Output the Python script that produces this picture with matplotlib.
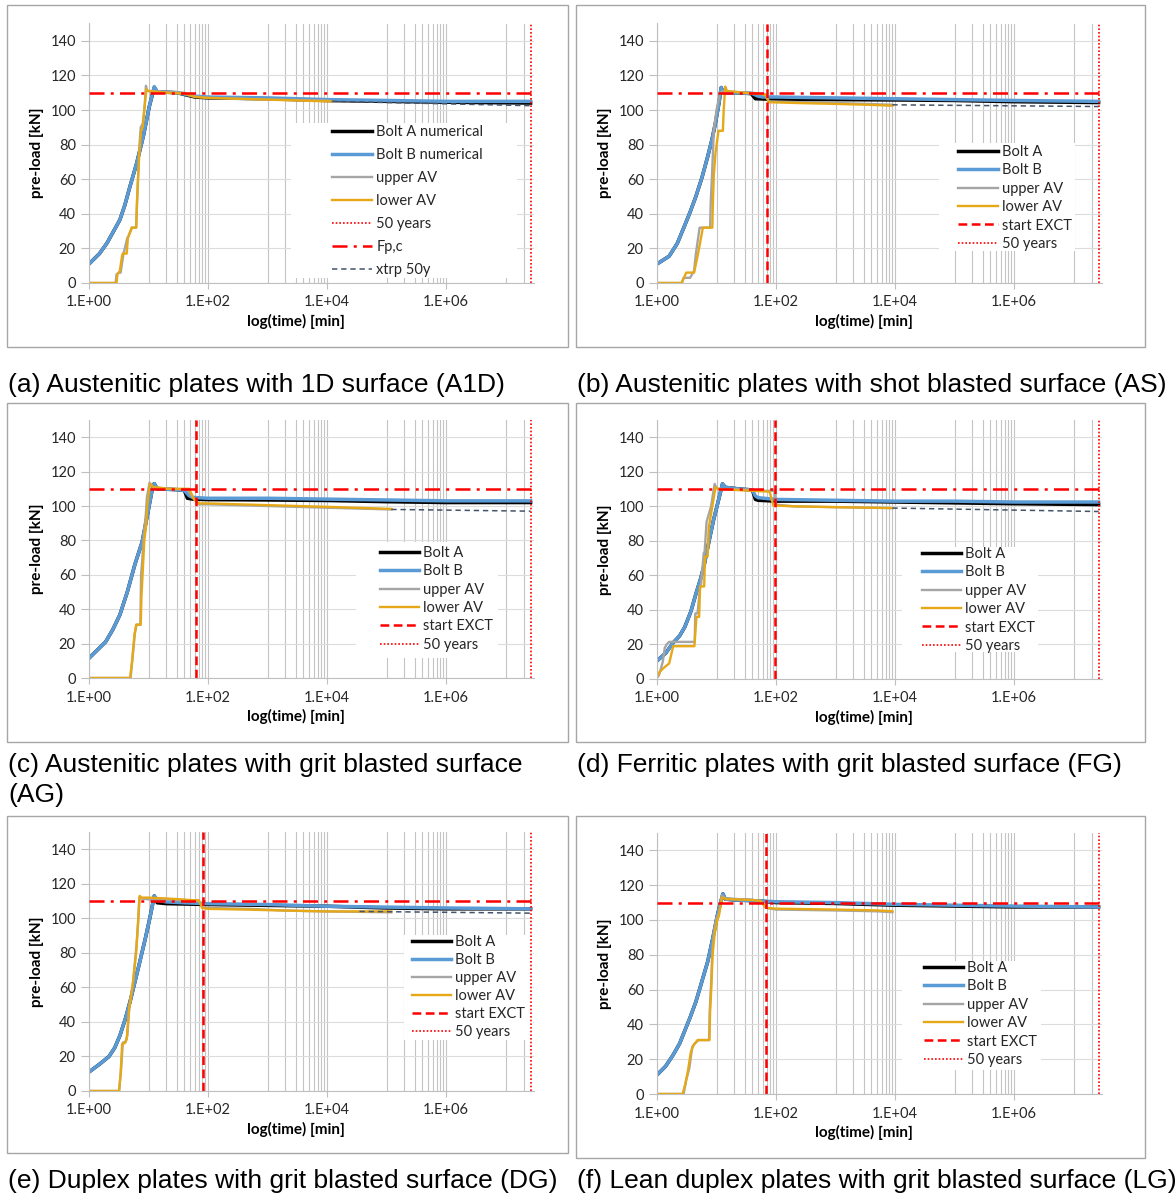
import matplotlib
matplotlib.use("Agg")
import matplotlib.pyplot as plt
from matplotlib.lines import Line2D
from matplotlib.patches import Rectangle
from matplotlib.ticker import FixedLocator, NullFormatter

W, H = 1175, 1196
T50 = 2.63e7      # 50 years [min]
FPC = 110.0       # Fp,c [kN]
XMAX = 3.0e7

# ---------------- (a) A1D ----------------
a_boltA_t = [1, 1.5, 2, 2.5, 3.3, 4, 4.9, 6.3, 8.2, 10.3, 12.5, 14, 30, 60, 100, 1e3, 1e4, 1e5, 1e6, T50]
a_boltA_y = [11, 17, 23, 29, 36.5, 45, 56, 69, 85, 102, 113, 110.5, 110, 107.5, 107, 106.5, 105.5, 105, 104.5, 104]
a_boltB_t = [1, 1.5, 2, 2.5, 3.3, 4, 4.9, 6.3, 8.2, 10.3, 12.5, 14, 30, 60, 100, 1e3, 1e4, 1e5, 1e6, T50]
a_boltB_y = [11, 17, 23, 29, 36.5, 45, 56, 69, 85, 102, 113.5, 110.5, 110, 108, 107.5, 107, 106, 105.5, 105, 105]
a_upper_t = [1, 2.8, 2.9, 3.2, 3.4, 3.8, 4.4, 4.6, 5.3, 6.2, 6.4, 6.7, 7.0, 7.4, 8.0, 8.6, 9.05, 9.5, 20, 40, 60, 100, 1e3, 1e4, 1.2e4]
a_upper_y = [0, 0, 5, 6, 6, 17, 26, 27, 32, 32, 45, 62, 78, 90, 92, 102, 114, 111, 110.5, 110, 108, 107, 106, 105.5, 105]
a_lower_t = [1, 2.9, 3.0, 3.3, 3.6, 3.7, 4.3, 4.5, 5.2, 6.2, 6.4, 6.7, 7.0, 7.5, 8.0, 8.5, 9.2, 9.9, 20, 40, 60, 100, 1e3, 1e4, 1.2e4]
a_lower_y = [0, 0, 5, 7, 16, 17, 17, 26, 32, 32, 47, 62, 75, 88, 90, 100, 112, 111, 110, 109.5, 107.5, 107, 106, 105, 105]
a_xtrp_t = [1.2e4, T50]
a_xtrp_y = [105, 102.5]

# ---------------- (b) AS ----------------
b_boltA_t = [1, 1.6, 2.2, 2.9, 3.6, 4.5, 5.7, 7.1, 8.4, 9.6, 11, 12, 13, 20, 38, 45, 70, 100, 1e3, 1e4, 1e5, 1e6, T50]
b_boltA_y = [11, 15.5, 23, 33, 41, 50, 61, 73, 83, 92.5, 104, 113, 110, 110, 109.5, 106.5, 106.3, 106, 106, 105.8, 105.5, 104.8, 104.3]
b_boltB_t = [1, 1.6, 2.2, 2.9, 3.6, 4.5, 5.7, 7.1, 8.4, 9.6, 11, 12, 13, 20, 40, 50, 60, 100, 1e3, 1e4, 1e5, 1e6, T50]
b_boltB_y = [11, 15.5, 23, 33, 41, 50, 61, 73, 83, 92.5, 104, 113, 110, 110, 109.5, 108, 107.5, 107.5, 107, 106.5, 106, 105.5, 105]
b_upper_t = [1, 2.6, 2.8, 3.6, 4.2, 4.5, 5.2, 7.8, 8.0, 8.4, 9.0, 10, 11.5, 13, 20, 40, 66, 76, 250, 1.1e3, 3.6e3, 9e3]
b_upper_y = [0, 0, 3, 3, 7, 17, 32, 32, 47, 62, 88, 100, 110, 111, 110.5, 110, 109, 105, 104.5, 104, 103.5, 103]
b_lower_t = [1, 2.6, 3.1, 4.2, 4.9, 5.9, 8.5, 8.7, 9.0, 9.6, 10.8, 12.8, 13.2, 14, 15, 27, 42, 66, 76, 250, 1.1e3, 3.6e3, 9e3]
b_lower_y = [0, 0, 6, 6, 17, 32, 32, 47, 62, 75, 88, 88, 100, 113.5, 111, 110, 109.5, 109, 104.5, 104, 103.5, 103, 102.5]
b_exct = 71
b_xtrp_t = [9e3, T50]
b_xtrp_y = [103, 102]

# ---------------- (c) AG ----------------
c_boltA_t = [1, 1.9, 2.5, 3.3, 4.4, 5.9, 7.8, 9.6, 11.9, 12.5, 14, 30, 40, 45, 55, 100, 1e3, 1e4, 1e5, 1e6, T50]
c_boltA_y = [11.5, 21, 28, 36.7, 50, 66, 79, 95, 112, 113, 110, 109.5, 109, 104.5, 104, 103.7, 103.5, 103.2, 102.5, 102, 102]
c_boltB_t = [1, 1.9, 2.5, 3.3, 4.4, 5.9, 7.8, 9.6, 11.9, 12.5, 14, 30, 40, 48, 55, 100, 1e3, 1e4, 1e5, 1e6, T50]
c_boltB_y = [11.5, 21, 28, 36.7, 50, 66, 79, 95, 112, 113, 110, 109.5, 109, 106, 105, 104.5, 104.5, 104, 103.5, 103, 103]
c_upper_t = [1, 5.0, 5.4, 5.9, 6.3, 7.3, 7.5, 7.9, 8.4, 9.0, 9.4, 10.4, 12, 22, 45, 58, 70, 100, 1e3, 1e4, 1.2e5]
c_upper_y = [0, 0, 12, 26, 31, 31, 60, 70, 85, 95, 105, 113.5, 111, 110, 109.5, 104, 101, 101, 100, 99, 98]
c_lower_t = [1, 4.9, 5.3, 5.8, 6.2, 7.4, 7.6, 8.0, 8.5, 9.2, 9.5, 10.6, 12, 22, 48, 58, 70, 100, 1e3, 1e4, 1.2e5]
c_lower_y = [0, 0, 10, 25, 31, 31, 47, 62, 80, 90, 100, 113, 111, 110, 110, 104, 101.5, 101.5, 100.5, 99.5, 98.3]
c_exct = 63
c_xtrp_t = [1.2e5, T50]
c_xtrp_y = [98, 97]

# ---------------- (d) FG ----------------
d_boltA_t = [1, 1.4, 1.87, 2.4, 2.92, 3.7, 4.57, 5.4, 6.2, 7.5, 8.9, 10.7, 12.6, 14, 25, 40, 45, 50, 100, 1e3, 1e4, 1e5, 1e6, T50]
d_boltA_y = [10.5, 15, 21, 25, 30, 39, 50, 58, 66, 80, 92, 103, 113, 111, 110, 109.5, 104, 103.5, 103, 103, 102.5, 102, 101.5, 101]
d_boltB_t = [1, 1.4, 1.87, 2.4, 2.92, 3.7, 4.57, 5.4, 6.2, 7.5, 8.9, 10.7, 12.6, 14, 25, 40, 45, 50, 100, 1e3, 1e4, 1e5, 1e6, T50]
d_boltB_y = [10.5, 15, 21, 25, 30, 39, 50, 58, 66, 80, 92, 103, 113, 111, 110, 109.5, 106, 105, 104, 103.5, 103, 103, 102.5, 102.5]
d_upper_t = [1, 1.05, 1.1, 1.25, 1.35, 1.45, 1.6, 4.3, 4.4, 4.8, 5.3, 5.5, 6.1, 6.3, 6.8, 8.1, 9.3, 10, 11, 20, 40, 50, 95, 100, 200, 1e3, 9e3]
d_upper_y = [1, 1.5, 3, 10, 18, 20, 21.5, 21.5, 38, 38, 53, 55, 73, 73, 91, 100, 113, 110.5, 110, 110, 109.5, 109, 109, 101, 100, 99.5, 99]
d_lower_t = [1, 1.1, 1.29, 1.6, 1.87, 4.25, 4.6, 5.1, 5.3, 6.2, 6.4, 7.1, 7.4, 7.6, 8.5, 9.6, 11, 20, 40, 78, 90, 200, 1.1e3, 9e3]
d_lower_y = [1, 4, 6.4, 9, 19, 19, 36, 36, 53.6, 53.6, 71, 71, 88, 90, 100, 111, 110, 109.5, 109, 108.5, 100.5, 100, 99.5, 99]
d_exct = 96
d_xtrp_t = [9e3, T50]
d_xtrp_y = [99, 97]

# ---------------- (e) DG ----------------
e_boltA_t = [1, 1.5, 2.17, 2.7, 3.3, 4.1, 5, 6.6, 8.8, 10.5, 12.5, 14, 20, 100, 1e3, 1e4, 1e5, 1e6, T50]
e_boltA_y = [11, 15.5, 20, 25, 32, 42, 53, 70, 88, 100, 113, 109, 108.5, 108, 107.5, 107, 106, 105.5, 105.5]
e_boltB_t = [1, 1.5, 2.17, 2.7, 3.3, 4.1, 5, 6.6, 8.8, 10.5, 12.5, 14, 20, 40, 100, 1e3, 1e4, 1e5, 1e6, T50]
e_boltB_y = [11, 15.5, 20, 25, 32, 42, 53, 70, 88, 100, 113, 110.5, 109.5, 109, 108.5, 108, 107, 106.5, 106, 105.5]
e_upper_t = [1, 3.2, 3.45, 3.7, 4.1, 4.4, 4.8, 5.5, 6.3, 6.7, 7.0, 7.5, 10, 20, 35, 55, 70, 80, 100, 500, 2e3, 1e4, 1.2e5]
e_upper_y = [0, 0, 12, 28, 28.5, 32, 50, 63, 85, 98, 112, 111.5, 111, 111, 110.5, 110, 110, 106.5, 106, 105.5, 104.5, 104, 103.5]
e_lower_t = [1, 3.2, 3.4, 3.6, 4.07, 4.3, 4.7, 5.4, 6.2, 6.6, 7.1, 7.6, 10, 20, 35, 55, 70, 80, 100, 500, 2e3, 1e4, 1.2e5]
e_lower_y = [0, 0, 10, 27, 28, 30, 47, 61, 80, 95, 113, 112, 112, 111.5, 111, 110.5, 110.5, 106, 105.5, 105, 104.5, 104, 104]
e_exct = 82
e_xtrp_t = [3.5e4, T50]
e_xtrp_y = [104, 103]

# ---------------- (f) LG ----------------
f_boltA_t = [1, 1.4, 1.87, 2.4, 2.9, 3.6, 4.5, 5.6, 7.1, 8.6, 10.3, 11.5, 12.8, 14, 20, 50, 100, 1e3, 1e4, 1e5, 1e6, T50]
f_boltA_y = [11, 16, 22.5, 29, 36, 44, 53, 64, 76, 89, 102.5, 109, 115, 112, 111.5, 111, 110, 109.5, 108.5, 108, 107.5, 107.5]
f_boltB_t = [1, 1.4, 1.87, 2.4, 2.9, 3.6, 4.5, 5.6, 7.1, 8.6, 10.3, 11.5, 12.8, 14, 20, 50, 100, 1e3, 1e4, 1e5, 1e6, T50]
f_boltB_y = [11, 16, 22.5, 29, 36, 44, 53, 64, 76, 89, 102.5, 109, 115, 112, 111.5, 111, 110.5, 110, 109, 108.5, 108, 107.5]
f_upper_t = [1, 2.8, 3.1, 3.5, 3.9, 4.3, 5.0, 7.5, 7.7, 8.1, 8.5, 9.1, 10, 11, 12.2, 14, 40, 55, 68, 100, 1e3, 5e3, 9e3]
f_upper_y = [0, 0, 8, 15, 27, 29, 31, 31, 48, 63, 82, 94, 101, 104, 114, 112.5, 111.5, 111, 107, 106, 105.5, 105, 104.5]
f_lower_t = [1, 2.7, 3.0, 3.3, 3.7, 4.1, 4.8, 7.6, 7.8, 8.2, 8.6, 9.3, 10.3, 10.9, 12.4, 14.5, 40, 55, 68, 100, 1e3, 5e3, 9e3]
f_lower_y = [0, 0, 6, 13, 24, 28, 31, 31, 47, 62, 80, 92, 100, 102, 113, 112, 111.5, 111, 107, 106.5, 106, 105.5, 105]
f_exct = 67

X_TICKS = [1, 1e2, 1e4, 1e6]
X_TICK_LABELS = ["1.E+00", "1.E+02", "1.E+04", "1.E+06"]
Y_TICKS = [0, 20, 40, 60, 80, 100, 120, 140]

CAPTIONS = [
    "(a) Austenitic plates with 1D surface (A1D)",
    "(b) Austenitic plates with shot blasted surface (AS)",
    "(c) Austenitic plates with grit blasted surface\n(AG)",
    "(d) Ferritic plates with grit blasted surface (FG)",
    "(e) Duplex plates with grit blasted surface (DG)",
    "(f) Lean duplex plates with grit blasted surface (LG)",
]

C_A = "#000000"
C_B = "#5B9BD5"
C_UP = "#A5A5A5"
C_LO = "#E6A817"
C_RED = "#FF0000"
C_XT = "#44546A"
GRID_V = "#C4C4C4"
GRID_H = "#DCDCDC"
FRAME = "#A6A6A6"
FS = 10.5

plt.rcParams["font.family"] = ["Lato", "DejaVu Sans"]

fig = plt.figure(figsize=(W / 100, H / 100), dpi=100)


def fx(px):
    return px / W


def fy(py):
    return 1 - py / H


# odd-decade gridlines as drawn by the spreadsheet
grid_t = [k * 10 ** e for e in (1, 3, 5, 7) for k in range(1, 11) if k * 10 ** e < XMAX]


def panel(frame, axpx, series, exct, xtrp, legend_labels, legbox, leganchor, spacing, handlelen):
    # chart-area frame
    fig.add_artist(Rectangle((fx(frame[0]), fy(frame[3])), (frame[2] - frame[0]) / W,
                             (frame[3] - frame[1]) / H, transform=fig.transFigure,
                             facecolor="white", edgecolor=FRAME, lw=1.0, zorder=0))
    x0, y0, x1, y1 = axpx
    ax = fig.add_axes([fx(x0), fy(y1), (x1 - x0) / W, (y1 - y0) / H])
    ax.set_facecolor("none")
    ax.set_xscale("log")
    ax.set_xlim(1, XMAX)
    ax.set_ylim(0, 150)
    ax.set_axisbelow(True)

    ax.set_xticks(X_TICKS)
    ax.set_xticklabels(X_TICK_LABELS)
    ax.xaxis.set_minor_locator(FixedLocator(grid_t))
    ax.xaxis.set_minor_formatter(NullFormatter())
    ax.set_yticks(Y_TICKS)
    ax.tick_params(axis="x", which="major", length=4, width=0.8, color="#BFBFBF",
                   labelsize=FS, pad=5, labelcolor="#262626")
    ax.tick_params(axis="x", which="minor", length=0)
    ax.tick_params(axis="y", length=5.5, width=0.8, color="#BFBFBF", labelsize=FS,
                   pad=4, labelcolor="#262626")
    ax.grid(axis="x", which="minor", color=GRID_V, lw=0.8)
    ax.grid(axis="x", which="major", color=GRID_V, lw=0.8)
    ax.grid(axis="y", which="major", color=GRID_H, lw=0.8)
    for s in ("top", "right"):
        ax.spines[s].set_visible(False)
    for s in ("left", "bottom"):
        ax.spines[s].set_color("#BFBFBF")
        ax.spines[s].set_linewidth(0.8)

    ax.set_ylabel("pre-load [kN]", fontsize=11, fontweight="bold")
    ax.yaxis.set_label_coords(-0.1, 0.5)
    ax.set_xlabel("log(time) [min]", fontsize=11, fontweight="bold")
    ax.xaxis.set_label_coords(0.465, -0.118)

    # white legend background covers the gridlines
    ax.add_artist(Rectangle((fx(legbox[0]), fy(legbox[3])), (legbox[2] - legbox[0]) / W,
                            (legbox[3] - legbox[1]) / H, transform=fig.transFigure,
                            facecolor="white", edgecolor="none", zorder=1))

    (At, Ay), (Bt, By), (Ut, Uy), (Lt, Ly) = series
    ax.plot(At, Ay, color=C_A, lw=2.5, zorder=2)
    ax.plot(Bt, By, color=C_B, lw=2.5, zorder=2.1)
    ax.plot(Ut, Uy, color=C_UP, lw=1.7, zorder=2.2)
    ax.plot(Lt, Ly, color=C_LO, lw=1.7, zorder=2.3)
    if exct is not None:
        ax.axvline(exct, color=C_RED, lw=1.8, dashes=(3.5, 1.8), zorder=2.5)
    ax.axvline(T50, color=C_RED, lw=1.2, dashes=(1, 1.2), zorder=2.5)
    ax.axhline(FPC, color=C_RED, lw=1.8, dashes=(6, 2.5, 1.2, 2.5), zorder=2.6)
    if xtrp is not None:
        ax.plot(xtrp[0], xtrp[1], color=C_XT, lw=1.1, dashes=(3.5, 2.5), zorder=2.4)

    h = {
        "A": Line2D([], [], color=C_A, lw=2.5),
        "B": Line2D([], [], color=C_B, lw=2.5),
        "U": Line2D([], [], color=C_UP, lw=1.7),
        "L": Line2D([], [], color=C_LO, lw=1.7),
        "X": Line2D([], [], color=C_RED, lw=1.8, dashes=(3.5, 1.8)),
        "Y": Line2D([], [], color=C_RED, lw=1.2, dashes=(1, 1.2)),
        "F": Line2D([], [], color=C_RED, lw=1.8, dashes=(6, 2.5, 1.2, 2.5)),
        "T": Line2D([], [], color=C_XT, lw=1.1, dashes=(3.5, 2.5)),
    }
    keys = [k for k, _ in legend_labels]
    labels = [lab for _, lab in legend_labels]
    ax.legend([h[k] for k in keys], labels, loc="upper left",
              bbox_to_anchor=(fx(leganchor[0]), fy(leganchor[1])),
              bbox_transform=fig.transFigure, frameon=False, borderpad=0,
              borderaxespad=0, handlelength=handlelen, handletextpad=0.3,
              labelspacing=spacing, fontsize=FS, labelcolor="#262626")
    return ax


legend_a = [("A", "Bolt A numerical"), ("B", "Bolt B numerical"), ("U", "upper AV"),
            ("L", "lower AV"), ("Y", "50 years"), ("F", "Fp,c"), ("T", "xtrp 50y")]
legend_std = [("A", "Bolt A"), ("B", "Bolt B"), ("U", "upper AV"), ("L", "lower AV"),
              ("X", "start EXCT"), ("Y", "50 years")]

panel((7, 5, 568, 347), (89, 23.5, 534, 283),
      [(a_boltA_t, a_boltA_y), (a_boltB_t, a_boltB_y), (a_upper_t, a_upper_y), (a_lower_t, a_lower_y)],
      None, (a_xtrp_t, a_xtrp_y), legend_a, (291, 123, 517, 278), (332, 125), 0.62, 2.75)
panel((576, 5, 1145, 347), (657, 23.5, 1102, 283),
      [(b_boltA_t, b_boltA_y), (b_boltB_t, b_boltB_y), (b_upper_t, b_upper_y), (b_lower_t, b_lower_y)],
      b_exct, (b_xtrp_t, b_xtrp_y), legend_std, (939, 143, 1075, 251), (958, 145), 0.3, 2.75)
panel((7, 403, 568, 742), (89, 420, 534, 678),
      [(c_boltA_t, c_boltA_y), (c_boltB_t, c_boltB_y), (c_upper_t, c_upper_y), (c_lower_t, c_lower_y)],
      c_exct, (c_xtrp_t, c_xtrp_y), legend_std, (356, 542, 498, 658), (380, 546), 0.3, 2.65)
panel((576, 403, 1145, 742), (657, 420, 1102, 679),
      [(d_boltA_t, d_boltA_y), (d_boltB_t, d_boltB_y), (d_upper_t, d_upper_y), (d_lower_t, d_lower_y)],
      d_exct, (d_xtrp_t, d_xtrp_y), legend_std, (902, 547, 1038, 652), (922, 547), 0.3, 2.65)
panel((7, 816, 568, 1153), (89, 832, 534, 1091),
      [(e_boltA_t, e_boltA_y), (e_boltB_t, e_boltB_y), (e_upper_t, e_upper_y), (e_lower_t, e_lower_y)],
      e_exct, (e_xtrp_t, e_xtrp_y), legend_std, (404, 935, 533, 1040), (412, 935), 0.28, 2.65)
panel((576, 816, 1145, 1158), (657, 833, 1102, 1094),
      [(f_boltA_t, f_boltA_y), (f_boltB_t, f_boltB_y), (f_upper_t, f_upper_y), (f_lower_t, f_lower_y)],
      f_exct, None, legend_std, (902, 961, 1041, 1070), (924, 961), 0.3, 2.65)

cap_pos = [(8, 385), (577, 385), (8, 765), (577, 765), (8, 1181), (577, 1181)]
for text, (cx, cy) in zip(CAPTIONS, cap_pos):
    for i, line in enumerate(text.split("\n")):
        fig.text(fx(cx), fy(cy + 30 * i), line, ha="left", va="center", fontsize=19,
                 family=["Liberation Sans", "DejaVu Sans"])

fig.savefig("out.png", dpi=100)
